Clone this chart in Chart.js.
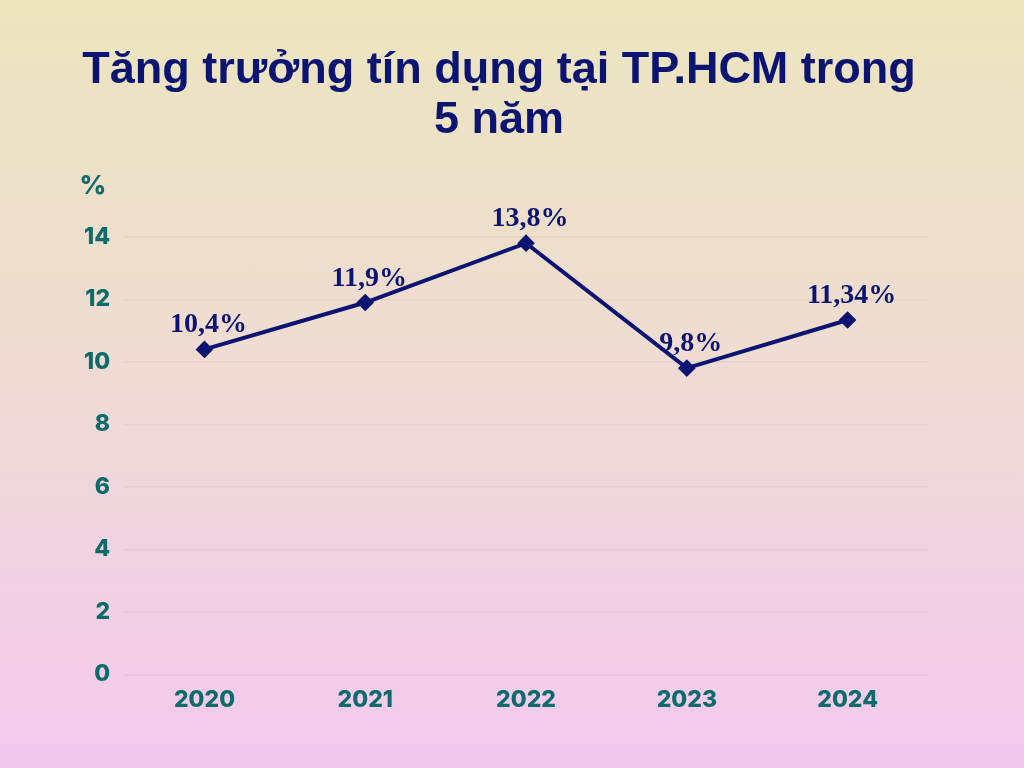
<!DOCTYPE html>
<html lang="vi">
<head>
    <meta charset="UTF-8">
    <title>Tăng trưởng tín dụng tại TP.HCM trong 5 năm</title>
    <script src="https://cdn.jsdelivr.net/npm/chart.js"></script>
    <style>
        html, body {
            margin: 0;
            padding: 0;
            width: 1024px;
            height: 768px;
            overflow: hidden;
        }

        body {
            background: linear-gradient(180deg, #ece5bf 0%, #efdcd2 45%, #f3c9ee 100%);
        }

        .wrap {
            position: relative;
            width: 1024px;
            height: 768px;
        }
    </style>
</head>
<body>
    <div class="wrap">
        <canvas id="creditChart"></canvas>
    </div>
    <script>
        const years = ['2020', '2021', '2022', '2023', '2024'];
        const growth = [10.4, 11.9, 13.8, 9.8, 11.34];
        const growthLabels = ['10,4%', '11,9%', '13,8%', '9,8%', '11,34%'];
        const titleLines = ['Tăng trưởng tín dụng tại TP.HCM trong', '5 năm'];

        const navy = '#0b1470';
        const teal = '#0e6b6b';

        // value labels above points + the "%" unit over the y axis
        const labelPlugin = {
            id: 'valueLabels',
            afterDatasetsDraw(chart) {
                const ctx = chart.ctx;
                const meta = chart.getDatasetMeta(0);
                ctx.save();
                ctx.font = 'bold 28px "Liberation Serif", "DejaVu Serif", serif';
                ctx.fillStyle = navy;
                ctx.textAlign = 'center';
                ctx.textBaseline = 'alphabetic';
                meta.data.forEach((pt, i) => {
                    ctx.fillText(growthLabels[i], pt.x + 4, pt.y - 17);
                });

                const yScale = chart.scales.y;
                ctx.font = '800 26px Inter, sans-serif';
                ctx.fillStyle = teal;
                ctx.textAlign = 'center';
                ctx.textBaseline = 'middle';
                ctx.fillText('%', 93, yScale.top - 51);
                ctx.restore();
            }
        };

        new Chart(document.getElementById('creditChart'), {
            type: 'line',
            data: {
                labels: years,
                datasets: [{
                    data: growth,
                    borderColor: navy,
                    backgroundColor: navy,
                    borderWidth: 4,
                    pointStyle: 'rectRot',
                    pointRadius: 6,
                    pointHoverRadius: 6,
                    tension: 0,
                    clip: false
                }]
            },
            options: {
                responsive: true,
                maintainAspectRatio: false,
                animation: false,
                layout: {
                    padding: { top: 0, left: 70, right: 96, bottom: 50 }
                },
                plugins: {
                    legend: { display: false },
                    tooltip: { enabled: false },
                    title: {
                        display: true,
                        text: titleLines,
                        color: navy,
                        font: { family: '"Liberation Sans", Arial, sans-serif', size: 45, weight: 'bold', lineHeight: 1.11 },
                        padding: { top: 46, bottom: 91 }
                    }
                },
                scales: {
                    x: {
                        offset: true,
                        grid: { display: false },
                        border: { display: false },
                        ticks: {
                            color: teal,
                            padding: 4,
                            font: { family: 'Inter, sans-serif', size: 23, weight: 800 }
                        }
                    },
                    y: {
                        min: 0,
                        max: 14,
                        grid: { color: 'rgba(190, 160, 170, 0.18)', lineWidth: 1.5, drawTicks: false },
                        border: { display: false },
                        ticks: {
                            stepSize: 2,
                            color: teal,
                            padding: 14,
                            font: { family: 'Inter, sans-serif', size: 23, weight: 800 }
                        }
                    }
                }
            },
            plugins: [labelPlugin]
        });
    </script>
</body>
</html>
